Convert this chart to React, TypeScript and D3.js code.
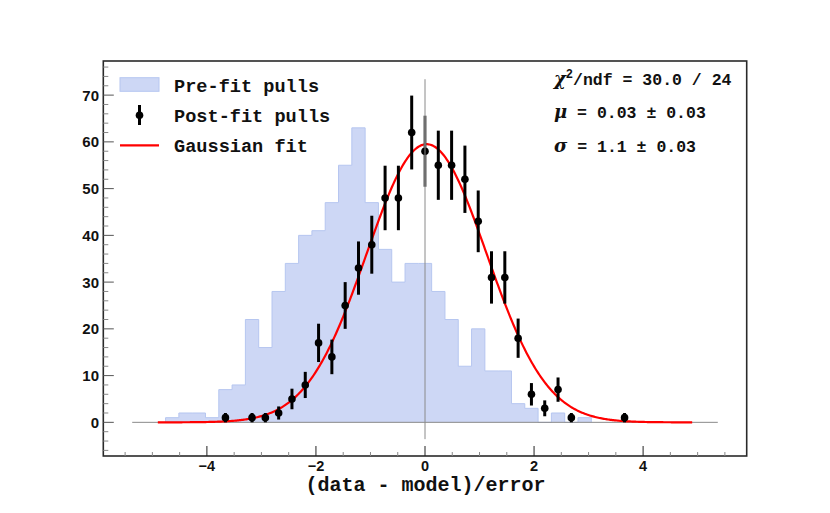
import { useEffect, useRef } from "react"
import * as d3 from "d3"

// histogram binning (bin k is centred on k * binWidth)
const binWidth = 0.244
const prefitFirstBin = -19
const prefitCounts = [
  1, 2, 2, 1, 7, 8, 22, 16, 28, 34, 40, 41, 47, 55, 63, 47, 37, 30, 34, 34,
  28, 22, 12, 20, 11, 11, 4, 3, 0, 2, 0, 1,
]

const postfitBins = [
  -15, -13, -12, -11, -10, -9, -8, -7, -6, -5, -4, -3, -2, -1, 0, 1, 2, 3, 4,
  5, 6, 7, 8, 9, 10, 11, 15,
]
const postfitCounts = [
  1, 1, 1, 2, 5, 8, 17, 14, 25, 33, 38, 48, 48, 62, 58, 55, 55, 52, 43, 31,
  31, 18, 6, 3, 7, 1, 1,
]
const postfitErrors = [
  1, 1, 1, 1.4, 2.2, 2.8, 4.1, 3.7, 5, 5.7, 6.2, 6.9, 6.9, 7.9, 7.6, 7.4, 7.4,
  7.2, 6.6, 5.6, 5.6, 4.2, 2.4, 1.7, 2.6, 1, 1,
]

// gaussian fit parameters
const fitAmplitude = 59.5
const fitMean = 0.03
const fitSigma = 1.1
const fitRange = [-4.9, 4.9]

const xTickLabels = [-4, -2, 0, 2, 4]
const yTickLabels = [0, 10, 20, 30, 40, 50, 60, 70]

const legendLabels = ["Pre-fit pulls", "Post-fit pulls", "Gaussian fit"]

const width = 830
const height = 513
const mono = "'Liberation Mono', 'DejaVu Sans Mono', monospace"
const sans = "'Liberation Sans', Arial, sans-serif"
const greek = "'DejaVu Serif', 'Liberation Serif', serif"

export default function App() {
  const svgRef = useRef<SVGSVGElement>(null)

  useEffect(() => {
    if (!svgRef.current) return
    const svg = d3.select(svgRef.current)
    svg.selectAll("*").remove()

    const x = d3.scaleLinear().domain([-5.9, 5.9]).range([103.3, 746.7])
    const y = d3.scaleLinear().domain([-7.2, 77.3]).range([456, 61])

    // pre-fit histogram
    const steps: [number, number][] = prefitCounts.map((c, i) => [
      (prefitFirstBin + i - 0.5) * binWidth,
      c,
    ])
    const lastEdge = (prefitFirstBin + prefitCounts.length - 0.5) * binWidth
    steps.push([lastEdge, 0])

    const area = d3
      .area<[number, number]>()
      .x(d => x(d[0]))
      .y0(y(0))
      .y1(d => y(d[1]))
      .curve(d3.curveStepAfter)

    svg
      .append("path")
      .attr("d", area(steps))
      .attr("fill", "#cdd7f5")

    const outline = d3
      .line<[number, number]>()
      .x(d => x(d[0]))
      .y(d => y(d[1]))
      .curve(d3.curveStepAfter)

    svg
      .append("path")
      .attr("d", outline([[steps[0][0], 0], ...steps]))
      .attr("fill", "none")
      .attr("stroke", "#b6c6f0")
      .attr("stroke-width", 1)

    // reference lines
    svg
      .append("line")
      .attr("x1", x(-5.37))
      .attr("x2", x(5.37))
      .attr("y1", y(0))
      .attr("y2", y(0))
      .attr("stroke", "#8a8a8a")
      .attr("stroke-width", 1)

    // gaussian fit
    const fitXs = d3.range(fitRange[0], fitRange[1] + 0.001, 0.02)
    const gauss = (v: number) =>
      fitAmplitude * Math.exp(-0.5 * ((v - fitMean) / fitSigma) ** 2)
    svg
      .append("path")
      .attr(
        "d",
        d3
          .line<number>()
          .x(d => x(d))
          .y(d => y(gauss(d)))(fitXs)
      )
      .attr("fill", "none")
      .attr("stroke", "#ff0000")
      .attr("stroke-width", 2.2)

    // post-fit points
    const pts = svg.append("g")
    postfitBins.forEach((b, i) => {
      const cx = x(b * binWidth)
      const v = postfitCounts[i]
      const e = postfitErrors[i]
      pts
        .append("line")
        .attr("x1", cx)
        .attr("x2", cx)
        .attr("y1", y(v - e))
        .attr("y2", y(v + e))
        .attr("stroke", b === 0 ? "#555" : "#000")
        .attr("stroke-width", 3)
      pts
        .append("circle")
        .attr("cx", cx)
        .attr("cy", y(v))
        .attr("r", 3.8)
        .attr("fill", "#000")
    })

    svg
      .append("line")
      .attr("x1", x(0))
      .attr("x2", x(0))
      .attr("y1", y(73.4))
      .attr("y2", y(-3.6))
      .attr("stroke", "#8a8a8a")
      .attr("stroke-width", 1)

    // frame
    svg
      .append("rect")
      .attr("x", x(-5.9))
      .attr("y", y(77.3))
      .attr("width", x(5.9) - x(-5.9))
      .attr("height", y(-7.2) - y(77.3))
      .attr("fill", "none")
      .attr("stroke", "#2a2a2a")
      .attr("stroke-width", 1.6)

    // x ticks
    const bottom = y(-7.2)
    d3.range(-5.5, 5.51, 0.5).forEach(t => {
      const major = xTickLabels.includes(t)
      svg
        .append("line")
        .attr("x1", x(t))
        .attr("x2", x(t))
        .attr("y1", bottom)
        .attr("y2", bottom - (major ? 10 : 4))
        .attr("stroke", major ? "#222" : "#888")
        .attr("stroke-width", 1)
    })
    xTickLabels.forEach(t => {
      svg
        .append("text")
        .attr("x", x(t))
        .attr("y", 471)
        .attr("text-anchor", "middle")
        .attr("font-family", sans)
        .attr("font-weight", "bold")
        .attr("font-size", 14.5)
        .attr("fill", "#111")
        .text(t < 0 ? `\u2212${-t}` : `${t}`)
    })

    // y ticks
    const left = x(-5.9)
    d3.range(-6, 77, 2).forEach(t => {
      const major = yTickLabels.includes(t)
      svg
        .append("line")
        .attr("x1", left)
        .attr("x2", left + (major ? 10.5 : 5))
        .attr("y1", y(t))
        .attr("y2", y(t))
        .attr("stroke", major ? "#555" : "#888")
        .attr("stroke-width", 1)
    })
    yTickLabels.forEach(t => {
      svg
        .append("text")
        .attr("x", 99)
        .attr("y", y(t))
        .attr("dy", "0.36em")
        .attr("text-anchor", "end")
        .attr("font-family", sans)
        .attr("font-weight", "bold")
        .attr("font-size", 15)
        .attr("fill", "#111")
        .text(t)
    })

    // x title
    svg
      .append("text")
      .attr("x", 425.5)
      .attr("y", 491)
      .attr("text-anchor", "middle")
      .attr("font-family", mono)
      .attr("font-weight", "bold")
      .attr("font-size", 20)
      .attr("fill", "#111")
      .text("(data - model)/error")

    // legend
    const legend = svg.append("g")
    legend
      .append("rect")
      .attr("x", 120)
      .attr("y", 77.7)
      .attr("width", 39)
      .attr("height", 13.6)
      .attr("fill", "#cdd7f5")
      .attr("stroke", "#b6c6f0")
    legend
      .append("line")
      .attr("x1", 139.5)
      .attr("x2", 139.5)
      .attr("y1", 105)
      .attr("y2", 125)
      .attr("stroke", "#000")
      .attr("stroke-width", 3)
    legend
      .append("circle")
      .attr("cx", 139.5)
      .attr("cy", 115.3)
      .attr("r", 3.8)
      .attr("fill", "#000")
    legend
      .append("line")
      .attr("x1", 120)
      .attr("x2", 159)
      .attr("y1", 145.3)
      .attr("y2", 145.3)
      .attr("stroke", "#ff0000")
      .attr("stroke-width", 2.2)
    legendLabels.forEach((l, i) => {
      legend
        .append("text")
        .attr("x", 174)
        .attr("y", 92 + i * 30)
        .attr("font-family", mono)
        .attr("font-weight", "bold")
        .attr("font-size", 18.6)
        .attr("fill", "#111")
        .text(l)
    })

    // fit statistics
    const stats = svg
      .append("g")
      .attr("font-family", mono)
      .attr("font-weight", "bold")
      .attr("font-size", 16.5)
      .attr("fill", "#111")

    const chi = stats.append("text").attr("x", 554).attr("y", 85)
    chi
      .append("tspan")
      .attr("font-family", greek)
      .attr("font-style", "italic")
      .attr("font-size", 18)
      .text("\u03c7")
    chi
      .append("tspan")
      .attr("dy", -7)
      .attr("font-size", 12)
      .text("2")
    chi.append("tspan").attr("dy", 7).text("/ndf = 30.0 / 24")

    const mu = stats.append("text").attr("x", 554).attr("y", 118.3)
    mu.append("tspan")
      .attr("font-family", greek)
      .attr("font-style", "italic")
      .attr("font-size", 18)
      .text("\u03bc")
    mu.append("tspan").text(` = ${fitMean.toFixed(2)} \u00b1 0.03`)

    const sg = stats.append("text").attr("x", 554).attr("y", 151.7)
    sg.append("tspan")
      .attr("font-family", greek)
      .attr("font-style", "italic")
      .attr("font-size", 18)
      .text("\u03c3")
    sg.append("tspan").text(` = ${fitSigma.toFixed(1)} \u00b1 0.03`)
  }, [])

  return (
    <svg
      ref={svgRef}
      width={width}
      height={height}
      style={{ position: "absolute", left: 0, top: 0, background: "#fff" }}
    />
  )
}
